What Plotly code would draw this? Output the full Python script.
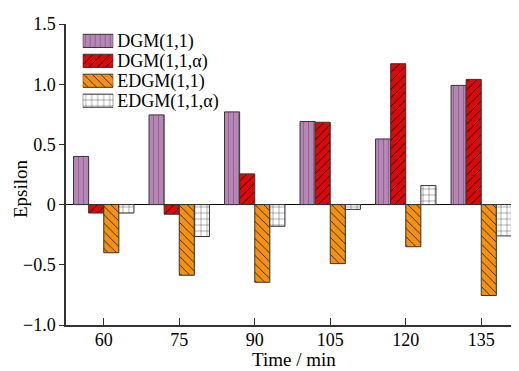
import plotly.graph_objects as go

categories = ["60", "75", "90", "105", "120", "135"]
series_names = ["DGM(1,1)", "DGM(1,1,α)", "EDGM(1,1)", "EDGM(1,1,α)"]
dgm = [0.40, 0.745, 0.77, 0.69, 0.545, 0.99]
dgm_alpha = [-0.07, -0.08, 0.255, 0.684, 1.17, 1.04]
edgm = [-0.40, -0.587, -0.645, -0.49, -0.35, -0.755]
edgm_alpha = [-0.07, -0.265, -0.18, -0.04, 0.158, -0.26]
ytick_vals = [-1.0, -0.5, 0, 0.5, 1.0, 1.5]
ytick_text = ["\u22121.0", "\u22120.5", "0", "0.5", "1.0", "1.5"]
x_title = "Time / min"
y_title = "Epsilon"

values = [dgm, dgm_alpha, edgm, edgm_alpha]
fills = ["#b886b6", "#d80a0a", "#f39212", "#ffffff"]
shapes = ["|", "/", "\\", "+"]
fgs = ["#7d5d7c", "#000000", "#000000", "#000000"]
sizes = [5, 6, 6, 6]
solid = [0.15, 0.12, 0.12, 0.1]

font_family = "Liberation Serif, Times New Roman, serif"
edge = "#333333"

fig = go.Figure()
for name, vals, fc, sh, fg, sz, so in zip(series_names, values, fills, shapes, fgs, sizes, solid):
    pat = dict(shape=sh, fgcolor=fg, bgcolor=fc, size=sz, solidity=so, fillmode="replace")
    fig.add_trace(go.Bar(
        x=categories, y=vals, name=name, showlegend=False,
        marker=dict(color=fc, line=dict(color=edge, width=1), pattern=pat),
    ))
    # legend swatch on an inset axis (its tick label is the series name)
    fig.add_trace(go.Bar(
        x=[1], y=[name], orientation="h", xaxis="x2", yaxis="y2",
        width=0.66, offset=-0.33, showlegend=False, hoverinfo="skip",
        marker=dict(color=fc, line=dict(color=edge, width=1), pattern=pat),
    ))

# The page body has an 8px margin; figure is sized so the plot area lands at x 66..519, y 24..325
fig.update_layout(
    width=511, height=363,
    margin=dict(l=58, r=0, t=16, b=46),
    paper_bgcolor="white", plot_bgcolor="white",
    barmode="group", bargap=0.2, bargroupgap=0,
    font=dict(family=font_family, size=17, color="black"),
    showlegend=False,
    xaxis=dict(
        type="category", automargin=False,
        showline=True, linecolor=edge, linewidth=1.5,
        ticks="inside", ticklen=7, tickcolor=edge,
        showgrid=False, zeroline=False,
        tickfont=dict(family=font_family, size=18),
        ticklabelstandoff=-2,
        range=[-0.5, 5.5],
    ),
    yaxis=dict(
        range=[-1.0, 1.5], automargin=False,
        tickvals=ytick_vals, ticktext=ytick_text,
        showline=True, linecolor=edge, linewidth=1.5,
        ticks="outside", ticklen=5, tickcolor=edge,
        showgrid=False,
        zeroline=True, zerolinecolor="black", zerolinewidth=1.2,
        tickfont=dict(family=font_family, size=18),
    ),
    xaxis2=dict(
        domain=[0.0369, 0.1044], range=[0, 1], anchor="y2",
        visible=False, fixedrange=True,
    ),
    yaxis2=dict(
        domain=[0.712, 0.977], anchor="x2", side="right",
        type="category", autorange="reversed",
        tickmode="array", tickvals=series_names, ticktext=series_names,
        showline=False, showgrid=False, zeroline=False, ticks="",
        tickfont=dict(family=font_family, size=18), automargin=False,
        ticklabelstandoff=3, fixedrange=True,
    ),
    annotations=[
        dict(text=x_title, xref="paper", yref="paper", x=0.504, y=-0.113,
             xanchor="center", yanchor="middle", showarrow=False,
             font=dict(family=font_family, size=19)),
        dict(text=y_title, xref="paper", yref="paper", x=-0.099, y=0.452,
             xanchor="center", yanchor="middle", textangle=-90, showarrow=False,
             font=dict(family=font_family, size=19)),
    ],
)

fig.write_html("out.html")
